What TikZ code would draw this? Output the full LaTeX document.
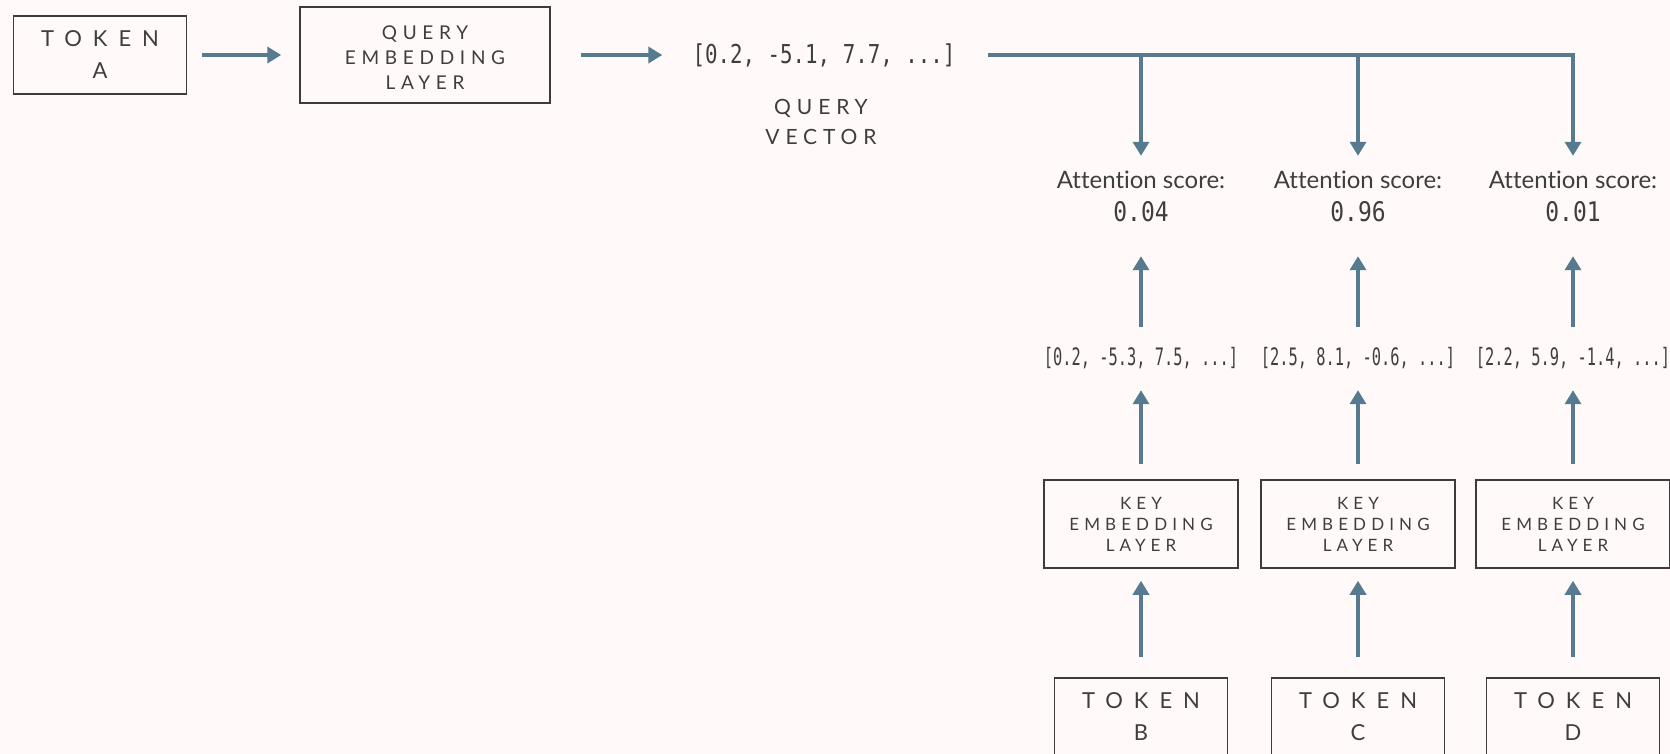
\documentclass[tikz,border=0pt]{standalone}
\usepackage{fontspec}
\setmainfont{Lato}[Ligatures=NoCommon]
\newfontfamily\capsfont[LetterSpace=50]{Lato}
\newfontfamily\layerfont[LetterSpace=30]{Lato}
\newfontfamily\captionfont[LetterSpace=28]{Lato}
\newfontfamily\vecfont[FakeStretch=0.64]{DejaVu Sans Mono}
\newfontfamily\qvecfont[FakeStretch=0.8]{DejaVu Sans Mono}
\newfontfamily\scorefont[FakeStretch=0.85]{DejaVu Sans Mono}
\usepackage{tikz}
\usetikzlibrary{arrows.meta}
\definecolor{bg}{HTML}{FFFAF9}
\definecolor{arrowblue}{HTML}{567A8F}
\definecolor{boxgray}{HTML}{3C3C3C}
\definecolor{textgray}{HTML}{3E3E3E}
\tikzset{>={Triangle[width=16pt,length=14pt]}}
\tikzset{
  box/.style={draw=boxgray, line width=1.5pt, align=center, text=textgray},
  tokbox/.style={box, minimum width=173pt, minimum height=78pt, font=\capsfont\fontsize{22}{32}\selectfont},
  qlayer/.style={box, minimum width=250pt, minimum height=96pt, font=\layerfont\fontsize{19}{25}\selectfont},
  klayer/.style={box, minimum width=194pt, minimum height=88pt, font=\layerfont\fontsize{17}{21}\selectfont},
  qvec/.style={inner sep=0pt, text=textgray, font=\qvecfont\fontsize{26}{30}\selectfont},
  caption/.style={align=center, text=textgray, font=\captionfont\fontsize{21}{30}\selectfont},
  attn/.style={inner sep=0pt, text height=17pt, text depth=5pt, text=textgray, font=\fontsize{24}{28}\selectfont},
  score/.style={inner sep=0pt, text height=16pt, text depth=4pt, text=textgray, font=\scorefont\fontsize{27}{30}\selectfont},
  keyvec/.style={inner sep=0pt, text height=14pt, text depth=4pt, text=textgray, font=\vecfont\fontsize{24}{28}\selectfont},
  conn/.style={->, draw=arrowblue, line width=4pt},
}

\begin{document}
\begin{tikzpicture}[x=1pt, y=-1pt]
    \useasboundingbox[fill=bg] (0,0) rectangle (1670,754);
    % query side
    \node[tokbox] (tokA) at (100,55) {TOKEN\\A};
    \node[qlayer] (qemb) at (425,55) {\rule{0pt}{19pt}QUERY\\EMBEDDING\\LAYER};
    \node[qvec] (qvec) at (824,55) {[0.2, -5.1, 7.7, ...]};
    \node[caption] (qlab) at (821,122) {QUERY\\VECTOR};
    % scores
    \node[attn] (lab1) at (1141,183) {Attention score:};
    \node[attn] (lab2) at (1358,183) {Attention score:};
    \node[attn] (lab3) at (1573,183) {Attention score:};
    \node[score] (sc1) at (1141,216) {0.04};
    \node[score] (sc2) at (1358,216) {0.96};
    \node[score] (sc3) at (1573,216) {0.01};
    % key side
    \node[keyvec] (kv1) at (1141,360) {[0.2, -5.3, 7.5, ...]};
    \node[keyvec] (kv2) at (1358,360) {[2.5, 8.1, -0.6, ...]};
    \node[keyvec] (kv3) at (1573,360) {[2.2, 5.9, -1.4, ...]};
    \node[klayer] (kemb1) at (1141,524) {KEY\\EMBEDDING\\LAYER};
    \node[klayer] (kemb2) at (1358,524) {KEY\\EMBEDDING\\LAYER};
    \node[klayer] (kemb3) at (1573,524) {KEY\\EMBEDDING\\LAYER};
    \node[tokbox] (tokB) at (1141,717) {TOKEN\\B};
    \node[tokbox] (tokC) at (1358,717) {TOKEN\\C};
    \node[tokbox] (tokD) at (1573,717) {TOKEN\\D};

    \draw[conn, shorten <=15pt, shorten >=18pt] (tokA) -- (qemb);
    \draw[conn, shorten <=30pt, shorten >=30pt] (qemb) -- (qvec);
    \draw[conn, shorten <=32pt, shorten >=16pt] (qvec) -| (lab3);
    \draw[conn, shorten >=16pt] (qvec -| lab1) -- (lab1);
    \draw[conn, shorten >=16pt] (qvec -| lab2) -- (lab2);

    \draw[conn, shorten <=24pt, shorten >=30pt] (kv1) -- (sc1);
    \draw[conn, shorten <=24pt, shorten >=30pt] (kv2) -- (sc2);
    \draw[conn, shorten <=24pt, shorten >=30pt] (kv3) -- (sc3);
    \draw[conn, shorten <=15pt, shorten >=21pt] (kemb1) -- (kv1);
    \draw[conn, shorten <=15pt, shorten >=21pt] (kemb2) -- (kv2);
    \draw[conn, shorten <=15pt, shorten >=21pt] (kemb3) -- (kv3);
    \draw[conn, shorten <=20pt, shorten >=12pt] (tokB) -- (kemb1);
    \draw[conn, shorten <=20pt, shorten >=12pt] (tokC) -- (kemb2);
    \draw[conn, shorten <=20pt, shorten >=12pt] (tokD) -- (kemb3);
\end{tikzpicture}
\end{document}
